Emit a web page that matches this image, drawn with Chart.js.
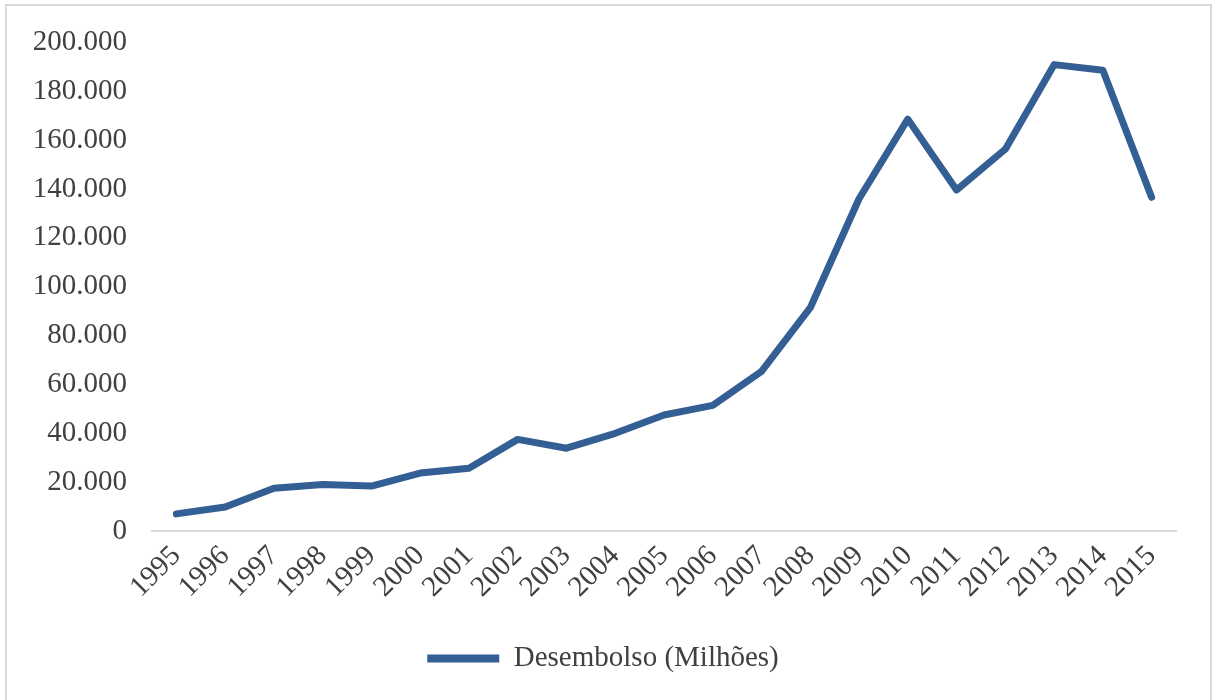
<!DOCTYPE html>
<html>
<head>
<meta charset="utf-8">
<title>Desembolso (Milhões)</title>
<script src="https://cdn.jsdelivr.net/npm/chart.js@4.4.1/dist/chart.umd.min.js"></script>
<style>
    body { margin: 0; background: #fff; }
    #wrap { position: relative; width: 1213px; height: 700px; }
    #frame {
        position: absolute; left: 5px; top: 4px; width: 1203px; height: 720px;
        border: 2px solid #d9d9d9; pointer-events: none;
    }
</style>
</head>
<body>
<div id="wrap">
    <canvas id="desembolsoChart" width="1213" height="700"></canvas>
    <div id="frame"></div>
</div>
<script>
// Desembolsos anuais, em milhões
var anos = ["1995", "1996", "1997", "1998", "1999", "2000", "2001", "2002", "2003", "2004", "2005",
            "2006", "2007", "2008", "2009", "2010", "2011", "2012", "2013", "2014", "2015"];
var desembolso = [7000, 9800, 17500, 19000, 18400, 23700, 25700, 37500, 33900, 40000, 47500,
                  51400, 65300, 91400, 136000, 168600, 139600, 156300, 190900, 188600, 136600];
var yTicks = [0, 20000, 40000, 60000, 80000, 100000, 120000, 140000, 160000, 180000, 200000];

var lineColor = "#335f94";
var textColor = "#404040";
var fontFamily = "'Liberation Serif', 'Times New Roman', serif";

function milhar(v) {
    return String(v).replace(/\B(?=(\d{3})+(?!\d))/g, ".");
}

Chart.defaults.font.family = fontFamily;
Chart.defaults.color = textColor;

var desembolsoChart = new Chart(document.getElementById("desembolsoChart"), {
    type: "line",
    data: {
        labels: anos,
        datasets: [
            {
                label: "Desembolso (Milhões)",
                data: desembolso,
                borderColor: lineColor,
                backgroundColor: lineColor,
                borderWidth: 7,
                borderCapStyle: "round",
                borderJoinStyle: "round",
                pointRadius: 0,
                tension: 0,
                fill: false
            }
        ]
    },
    options: {
        responsive: false,
        animation: false,
        layout: { padding: { left: 30, right: 37, top: 40, bottom: 17 } },
        plugins: {
            tooltip: { enabled: false },
            legend: {
                position: "bottom",
                labels: {
                    font: { size: 29 },
                    boxWidth: 72,
                    boxHeight: 8,
                    useBorderRadius: true,
                    borderRadius: 4,
                    padding: 10,
                    generateLabels: function(chart) {
                        // legend swatch as a plain filled bar, no outline
                        return chart.data.datasets.map(function(ds, i) {
                            return {
                                text: ds.label,
                                fillStyle: ds.borderColor,
                                strokeStyle: ds.borderColor,
                                lineWidth: 0,
                                fontColor: textColor,
                                datasetIndex: i
                            };
                        });
                    }
                }
            }
        },
        scales: {
            x: {
                offset: true,
                grid: { display: false, drawTicks: false },
                border: { display: true, color: "#d9d9d9", width: 2 },
                ticks: {
                    font: { size: 29 },
                    minRotation: 45,
                    maxRotation: 45,
                    padding: 8,
                    autoSkip: false
                },
                afterFit: function(scale) { scale.height = 103; }
            },
            y: {
                min: 0,
                max: 200000,
                grid: { display: false, drawTicks: false },
                border: { display: false },
                afterBuildTicks: function(scale) {
                    scale.ticks = yTicks.map(function(v) { return { value: v }; });
                },
                ticks: {
                    font: { size: 29 },
                    padding: 25,
                    callback: function(value) { return milhar(value); }
                },
                afterFit: function(scale) { scale.width = 122; }
            }
        }
    }
});
</script>
</body>
</html>
